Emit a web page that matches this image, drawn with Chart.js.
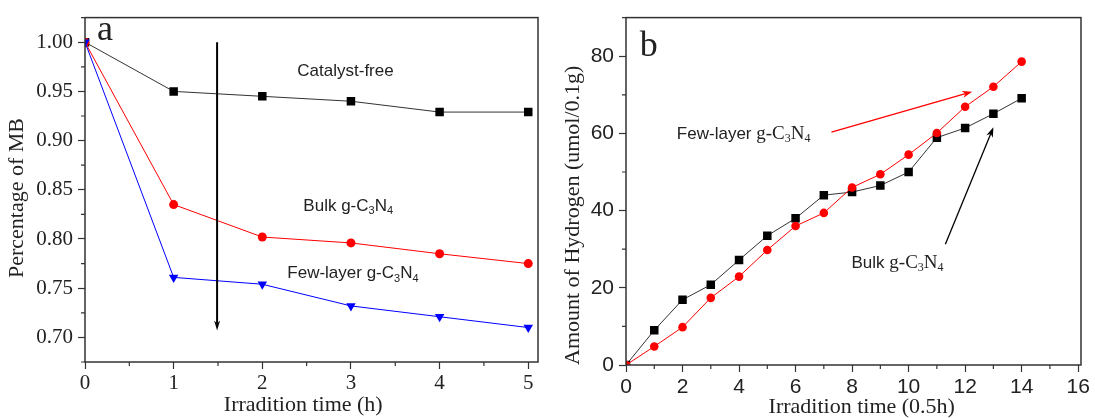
<!DOCTYPE html>
<html>
<head>
<meta charset="utf-8">
<script src="https://cdn.jsdelivr.net/npm/chart.js@4"></script>
<style>
	html, body { margin: 0; padding: 0; background: #fff; }
	.panel { position: absolute; top: 0; width: 550px; height: 418px; }
	#panelA { left: 0; }
	#panelB { left: 545px; }
</style>
</head>
<body>
<div class="panel" id="panelA"><canvas id="chartA"></canvas></div>
<div class="panel" id="panelB"><canvas id="chartB"></canvas></div>
<script>
// panel a: MB degradation
const hoursA = [0, 1, 2, 3, 4, 5];
const catalystFree = [1.0, 0.95, 0.945, 0.94, 0.929, 0.929];
const bulkMB = [1.0, 0.835, 0.802, 0.796, 0.785, 0.775];
const fewLayerMB = [1.0, 0.761, 0.754, 0.732, 0.721, 0.71];
const xTicksA = [0, 1, 2, 3, 4, 5];
const yTicksA = [0.7, 0.75, 0.8, 0.85, 0.9, 0.95, 1.0];

// panel b: hydrogen evolution
const periodsB = [0, 1, 2, 3, 4, 5, 6, 7, 8, 9, 10, 11, 12, 13, 14];
const bulkH2 = [0, 9.0, 16.9, 20.8, 27.2, 33.5, 38.0, 44.0, 44.8, 46.5, 50.0, 58.9, 61.4, 65.1, 69.1];
const fewLayerH2 = [0, 4.8, 9.8, 17.4, 22.9, 29.8, 36.0, 39.4, 46.0, 49.4, 54.5, 60.1, 66.9, 72.1, 78.6];
const xTicksB = [0, 2, 4, 6, 8, 10, 12, 14, 16];
const yTicksB = [0, 20, 40, 60, 80];

const SERIF = '"Liberation Serif", "Times New Roman", serif';
const SANS = '"Liberation Sans", Arial, sans-serif';
const INK = "#222";

const points = (xs, ys) => xs.map((x, i) => ({ x: x, y: ys[i] }));
const fixTicks = list => scale => { scale.ticks = list.map(v => ({ value: v })); };

const fonts = {
	sans: "17px " + SANS,
	sub: "11px " + SANS,
	serif: "19px " + SERIF,
	subSerif: "12px " + SERIF,
	big: "36px " + SERIF,
};

// frame, minor ticks, labels and arrows
const decor = {
	id: "decor",
	afterDraw(chart, args, opts) {
		const { ctx, chartArea: a, scales } = chart;
		const xs = scales.x, ys = scales.y;
		ctx.save();
		ctx.strokeStyle = "#333";
		ctx.lineWidth = 1.5;
		ctx.strokeRect(a.left, a.top, a.right - a.left, a.bottom - a.top);

		ctx.lineWidth = 1.2;
		ctx.beginPath();
		opts.minorX.forEach(v => {
			const px = xs.getPixelForValue(v);
			ctx.moveTo(px, a.bottom);
			ctx.lineTo(px, a.bottom + 4);
		});
		opts.minorY.forEach(v => {
			const py = ys.getPixelForValue(v);
			ctx.moveTo(a.left - 4, py);
			ctx.lineTo(a.left, py);
		});
		ctx.stroke();

		ctx.fillStyle = INK;
		opts.labels.forEach(l => {
			let cx = xs.getPixelForValue(l.x);
			const cy = ys.getPixelForValue(l.y);
			ctx.textBaseline = l.baseline || "middle";
			l.parts.forEach(([t, f]) => {
				ctx.font = fonts[f];
				const dy = f === "sub" || f === "subSerif" ? 5 : 0;
				ctx.fillText(t, cx, cy + dy);
				cx += ctx.measureText(t).width;
			});
		});

		opts.arrows.forEach(r => {
			const x1 = xs.getPixelForValue(r.from[0]), y1 = ys.getPixelForValue(r.from[1]);
			const x2 = xs.getPixelForValue(r.to[0]), y2 = ys.getPixelForValue(r.to[1]);
			const ang = Math.atan2(y2 - y1, x2 - x1);
			const len = r.head, half = r.half;
			const cos = Math.cos(ang), sin = Math.sin(ang);
			ctx.strokeStyle = r.color;
			ctx.fillStyle = r.color;
			ctx.lineWidth = r.width;
			ctx.beginPath();
			ctx.moveTo(x1, y1);
			ctx.lineTo(x2 - cos * len * 0.7, y2 - sin * len * 0.7);
			ctx.stroke();
			ctx.beginPath();
			ctx.moveTo(x2, y2);
			ctx.lineTo(x2 - cos * len - sin * half, y2 - sin * len + cos * half);
			ctx.lineTo(x2 - cos * len * 0.7, y2 - sin * len * 0.7);
			ctx.lineTo(x2 - cos * len + sin * half, y2 - sin * len - cos * half);
			ctx.closePath();
			ctx.fill();
		});
		ctx.restore();
	},
};

const axis = (o) => ({
	type: "linear",
	min: o.min,
	max: o.max,
	afterBuildTicks: fixTicks(o.ticks),
	afterFit: o.fit,
	border: { display: false },
	grid: {
		display: true,
		drawOnChartArea: false,
		drawTicks: true,
		tickLength: 7,
		tickColor: "#333",
		tickWidth: 1.2,
	},
	ticks: {
		color: INK,
		font: { family: o.tickFamily, size: 21 },
		padding: o.pad,
		autoSkip: false,
		maxRotation: 0,
		callback: o.format,
	},
	title: {
		display: true,
		text: o.title,
		align: o.titleAlign || "center",
		color: INK,
		font: { family: SERIF, size: 22 },
		padding: o.titlePad,
	},
});

const baseOptions = {
	responsive: true,
	maintainAspectRatio: false,
	animation: false,
	events: [],
};

const lineSet = (label, data, color, style, radius, rotation) => ({
	label: label,
	data: data,
	borderColor: color === "#000" ? "#333" : color,
	backgroundColor: color,
	borderWidth: 1,
	pointStyle: style,
	pointRotation: rotation || 0,
	pointRadius: radius,
	pointBorderWidth: 0,
	tension: 0,
});

new Chart(document.getElementById("chartA"), {
	type: "line",
	data: {
		datasets: [
			lineSet("Few-layer g-C3N4", points(hoursA, fewLayerMB), "#0000ff", "triangle", 5.5, 180),
			lineSet("Bulk g-C3N4", points(hoursA, bulkMB), "#ff0000", "circle", 4.5),
			lineSet("Catalyst-free", points(hoursA, catalystFree), "#000", "rect", 6),
		],
	},
	options: {
		...baseOptions,
		layout: { padding: { top: 15, right: 12, left: 0, bottom: 0 } },
		scales: {
			x: axis({
				min: 0, max: 5.11, ticks: xTicksA, tickFamily: SERIF, pad: 2,
				fit: s => { s.height = 56; },
				format: v => String(v),
				// trailing spaces nudge the centred title left
				title: "Irradition time (h)   ", titlePad: { top: 0, bottom: 0 },
			}),
			y: axis({
				min: 0.675, max: 1.025, ticks: yTicksA, tickFamily: SERIF, pad: 5,
				fit: s => { s.width = 85; },
				format: v => v.toFixed(2),
				title: "Percentage of MB   ", titlePad: { top: 4, bottom: 0 },
			}),
		},
		plugins: {
			legend: { display: false },
			tooltip: { enabled: false },
			decor: {
				minorX: [0.5, 1.5, 2.5, 3.5, 4.5],
				minorY: [0.675, 0.725, 0.775, 0.825, 0.875, 0.925, 0.975, 1.025],
				labels: [
					{ x: 0.136, y: 1.0018, baseline: "alphabetic", parts: [["a", "big"]] },
					{ x: 2.395, y: 0.9705, parts: [["Catalyst-free", "sans"]] },
					{ x: 2.463, y: 0.8333, parts: [["Bulk g-C", "sans"], ["3", "sub"], ["N", "sans"], ["4", "sub"]] },
					{ x: 2.282, y: 0.7648, parts: [["Few-layer g-C", "sans"], ["3", "sub"], ["N", "sans"], ["4", "sub"]] },
				],
				arrows: [
					{ from: [1.49, 1.0], to: [1.49, 0.707], color: "#000", width: 2, head: 10, half: 3 },
				],
			},
		},
	},
	plugins: [decor],
});

new Chart(document.getElementById("chartB"), {
	type: "line",
	data: {
		datasets: [
			lineSet("Few-layer g-C3N4", points(periodsB, fewLayerH2), "#ff0000", "circle", 4.3),
			lineSet("Bulk g-C3N4", points(periodsB, bulkH2), "#000", "rect", 6),
		],
	},
	options: {
		...baseOptions,
		layout: { padding: { top: 13, right: 14, left: 0, bottom: 0 } },
		scales: {
			x: axis({
				min: 0, max: 16.1, ticks: xTicksB, tickFamily: SANS, pad: 3,
				fit: s => { s.height = 53; },
				format: v => String(v),
				title: "   Irradition time (0.5h)", titlePad: { top: 0, bottom: -2 },
			}),
			y: axis({
				min: 0, max: 90, ticks: yTicksB, tickFamily: SANS, pad: 5,
				fit: s => { s.width = 81; },
				format: v => String(v),
				title: "Amount of Hydrogen (umol/0.1g)", titleAlign: "start", titlePad: { top: 15, bottom: 0 },
			}),
		},
		plugins: {
			legend: { display: false },
			tooltip: { enabled: false },
			decor: {
				minorX: [1, 3, 5, 7, 9, 11, 13, 15],
				minorY: [10, 30, 50, 70, 90],
				labels: [
					{ x: 0.49, y: 80.1, baseline: "alphabetic", parts: [["b", "big"]] },
					{ x: 1.8, y: 59.8, parts: [["Few-layer ", "sans"], ["g-C", "serif"], ["3", "subSerif"], ["N", "serif"], ["4", "subSerif"]] },
					{ x: 7.98, y: 26.4, parts: [["Bulk ", "sans"], ["g-C", "serif"], ["3", "subSerif"], ["N", "serif"], ["4", "subSerif"]] },
				],
				arrows: [
					{ from: [7.27, 60.3], to: [12.25, 70.8], color: "#ff0000", width: 1.3, head: 10, half: 3.5 },
					{ from: [11.3, 31.3], to: [13.0, 61.6], color: "#000", width: 1.3, head: 10, half: 3.5 },
				],
			},
		},
	},
	plugins: [decor],
});
</script>
</body>
</html>
